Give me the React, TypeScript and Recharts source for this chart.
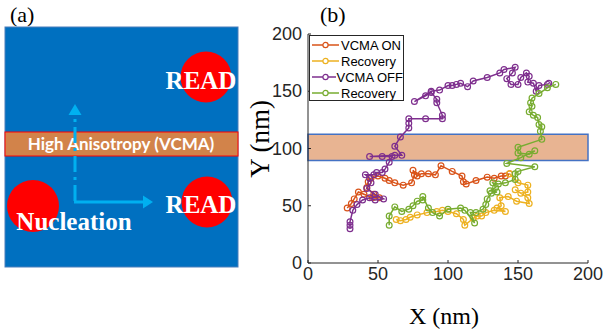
import React from 'react';
import { ScatterChart, Scatter, XAxis, YAxis, ReferenceArea, Legend } from 'recharts';

type Pt = { x: number; y: number };
const toPts = (rows: number[][]): Pt[] => rows.map(([x, y]) => ({ x, y }));

// trajectories (x, y in nm)
const vcmaOn = toPts([
  [28, 48], [31, 52], [33, 56], [36, 62], [40, 60], [46, 57], [51, 57], [47, 60], [42, 66], [43, 71],
  [45, 74], [50, 76], [55, 74], [58, 72], [62, 70], [68, 68], [74, 70], [76, 77], [75, 81], [78, 76],
  [81, 78], [86, 78], [91, 77], [95, 85], [103, 80], [110, 76], [111, 71], [113, 69], [120, 72],
  [128, 75], [133, 74], [138, 76], [141, 76], [144, 78],
]);

const recoveryA = toPts([
  [144, 78], [150, 70], [157, 68], [157, 62], [152, 61], [148, 64], [157, 57], [158, 52], [149, 54],
  [143, 58], [137, 57], [138, 50], [135, 48], [141, 45], [133, 46], [127, 44], [124, 41], [121, 41],
  [118, 39], [112, 33], [111, 38], [106, 43], [100, 45], [96, 46], [92, 45], [85, 44], [78, 42],
  [73, 40], [70, 38], [66, 37], [63, 38],
]);

const vcmaOff = toPts([
  [30, 30], [30, 33], [30, 36], [32, 46], [35, 51], [39, 55], [44, 57], [48, 55], [54, 56], [48, 60],
  [42, 65], [45, 70], [44, 74], [41, 77], [47, 77], [49, 79], [53, 79], [55, 82], [58, 88], [60, 93],
  [53, 93], [44, 93], [62, 94], [67, 94], [62, 102], [66, 110], [72, 118], [72, 122], [72, 126],
  [84, 126], [96, 126], [96, 129], [92, 140], [92, 143], [88, 149], [84, 146], [76, 141], [88, 150],
  [94, 151], [100, 155], [103, 155], [106, 156], [109, 157], [114, 154], [118, 159], [128, 162],
  [137, 166], [140, 169], [148, 171], [146, 166], [142, 161], [145, 156], [150, 156], [152, 162],
  [156, 166], [158, 163], [157, 158], [161, 157], [163, 150], [165, 155], [171, 156], [172, 157],
]);

const recoveryB = toPts([
  [177, 156], [171, 153], [165, 148], [160, 144], [159, 140], [160, 137], [158, 132], [161, 129],
  [164, 127], [165, 121], [167, 119], [166, 115], [167, 108], [150, 101], [150, 96], [158, 95],
  [162, 98], [152, 92], [142, 87], [162, 84], [150, 80], [148, 78], [148, 73], [141, 70], [136, 69],
  [132, 70], [134, 66], [130, 63], [135, 62], [131, 61], [128, 56], [127, 51], [125, 47], [120, 44],
  [116, 44], [119, 35], [112, 46], [109, 48], [100, 47], [94, 41], [89, 44], [86, 48], [82, 58],
  [82, 55], [78, 54], [75, 50], [72, 47], [67, 45], [62, 49], [58, 41], [58, 33],
]);

const seriesNames = ['VCMA ON', 'Recovery', 'VCMA OFF', 'Recovery'];
const seriesColors = ['#D95319', '#EDB120', '#7E2F8E', '#77AC30'];
const seriesData = [vcmaOn, recoveryA, vcmaOff, recoveryB];

const axisTicks = [0, 50, 100, 150, 200];
const band = [89.5, 112.5];

const AXIS = '#262626';
const SANS = '"Liberation Sans", Arial, sans-serif';
const SERIF = '"Liberation Serif", "Times New Roman", serif';

const BottomTick = ({ x, y, payload }: any) => (
  <g>
    <line x1={x} x2={x} y1={y} y2={y - 3} stroke={AXIS} />
    <text x={x} y={y + 17} textAnchor="middle" fontSize={18} fontFamily={SANS} fill={AXIS}>
      {payload.value}
    </text>
  </g>
);
const TopTick = ({ x, y }: any) => <line x1={x} x2={x} y1={y} y2={y + 3} stroke={AXIS} />;
const LeftTick = ({ x, y, payload }: any) => (
  <g>
    <line x1={x} x2={x + 3} y1={y} y2={y} stroke={AXIS} />
    <text x={x - 6} y={y + 6} textAnchor="end" fontSize={18} fontFamily={SANS} fill={AXIS}>
      {payload.value}
    </text>
  </g>
);
const RightTick = ({ x, y }: any) => <line x1={x} x2={x - 3} y1={y} y2={y} stroke={AXIS} />;

const Dot = (color: string) => (props: any) => (
  <circle cx={props.cx} cy={props.cy} r={2.9} fill="none" stroke={color} strokeWidth={1.2} />
);

const LegendBox = () => (
  <div
    style={{
      border: `1px solid ${AXIS}`,
      background: '#fff',
      width: 95,
      height: 66,
      boxSizing: 'border-box',
      fontFamily: SANS,
      fontSize: 13,
      color: '#000',
      paddingTop: 1,
    }}
  >
    {seriesNames.map((name, i) => (
      <div key={i} style={{ display: 'flex', alignItems: 'center', height: 16 }}>
        <svg width={29} height={10} style={{ marginLeft: 1 }}>
          <line x1={1} y1={5} x2={28} y2={5} stroke={seriesColors[i]} strokeWidth={1.5} />
          <circle cx={14.5} cy={5} r={2.6} fill="#fff" stroke={seriesColors[i]} strokeWidth={1.2} />
        </svg>
        <span style={{ marginLeft: 1, whiteSpace: 'nowrap' }}>{name}</span>
      </div>
    ))}
  </div>
);

function PanelA() {
  const cyan = '#00B0F0';
  return (
    <svg width={250} height={333} style={{ position: 'absolute', left: 0, top: 0 }}>
      <text x={10} y={22} fontSize={22} fontFamily={SERIF}>(a)</text>
      <rect x={5} y={27} width={233} height={240} fill="#0070C0" stroke="#4A7EBB" />
      <rect x={5} y={132} width={233} height={24} fill="#D2834A" stroke="#FF0000" />
      <text x={121} y={150} textAnchor="middle" fill="#fff" fontSize={17} fontWeight={700} fontFamily="Lato, sans-serif">
        High Anisotropy (VCMA)
      </text>
      <circle cx={206} cy={77} r={25.5} fill="#FF0000" />
      <circle cx={207} cy={202} r={25.5} fill="#FF0000" />
      <circle cx={33} cy={206} r={26} fill="#FF0000" />
      <line x1={75} y1={201} x2={75} y2={114} stroke={cyan} strokeWidth={3} strokeDasharray="16 5 3 5" />
      <polygon points="75,104 68.5,115 81.5,115" fill={cyan} />
      <line x1={74} y1={202} x2={144} y2={202} stroke={cyan} strokeWidth={3} />
      <polygon points="153,202 143,195.5 143,208.5" fill={cyan} />
      <text x={201} y={89} textAnchor="middle" fill="#fff" fontSize={25} fontWeight={700} fontFamily={SERIF}>READ</text>
      <text x={201} y={213} textAnchor="middle" fill="#fff" fontSize={25} fontWeight={700} fontFamily={SERIF}>READ</text>
      <text x={74} y={230} textAnchor="middle" fill="#fff" fontSize={25} fontWeight={700} fontFamily={SERIF}>Nucleation</text>
    </svg>
  );
}

export default function App() {
  return (
    <div style={{ position: 'absolute', left: 0, top: 0, width: 604, height: 333, background: '#fff' }}>
      <ScatterChart width={604} height={333} margin={{ top: 34, right: 16, bottom: 40, left: 258 }}>
        <XAxis
          type="number"
          dataKey="x"
          domain={[0, 200]}
          ticks={axisTicks}
          height={30}
          tickSize={0}
          tickMargin={0}
          stroke={AXIS}
          tick={<BottomTick />}
          label={() => (
            <text x={444} y={324} textAnchor="middle" fontSize={24} fontFamily={SERIF} fill="#000">
              X (nm)
            </text>
          )}
        />
        <XAxis
          xAxisId="top"
          orientation="top"
          type="number"
          dataKey="x"
          domain={[0, 200]}
          ticks={axisTicks}
          height={0}
          tickSize={0}
          stroke={AXIS}
          tick={<TopTick />}
        />
        <YAxis
          type="number"
          dataKey="y"
          domain={[0, 200]}
          ticks={axisTicks}
          width={50}
          tickSize={0}
          tickMargin={0}
          stroke={AXIS}
          tick={<LeftTick />}
          label={() => (
            <text transform="translate(269,139) rotate(-90)" textAnchor="middle" fontSize={27} fontFamily={SERIF} fill="#000">
              Y (nm)
            </text>
          )}
        />
        <YAxis
          yAxisId="right"
          orientation="right"
          type="number"
          dataKey="y"
          domain={[0, 200]}
          ticks={axisTicks}
          width={0}
          tickSize={0}
          stroke={AXIS}
          tick={<RightTick />}
        />
        {seriesData.map((d, i) => (
          <Scatter
            key={i}
            name={seriesNames[i]}
            data={d}
            fill={seriesColors[i]}
            line={{ stroke: seriesColors[i], strokeWidth: 1.5 }}
            lineType="joint"
            shape={Dot(seriesColors[i])}
            isAnimationActive={false}
          />
        ))}
        <ReferenceArea
          x1={0}
          x2={200}
          y1={band[0]}
          y2={band[1]}
          fill="#D9824A"
          fillOpacity={0.6}
          stroke="#4472C4"
          strokeWidth={1.5}
        />
        <Legend
          layout="vertical"
          align="center"
          verticalAlign="middle"
          content={() => <LegendBox />}
          wrapperStyle={{ left: 309, top: 35, width: 95, height: 66 }}
        />
      </ScatterChart>
      <PanelA />
      <svg width={60} height={30} style={{ position: 'absolute', left: 315, top: 0 }}>
        <text x={5} y={22} fontSize={22} fontFamily={SERIF}>(b)</text>
      </svg>
    </div>
  );
}
